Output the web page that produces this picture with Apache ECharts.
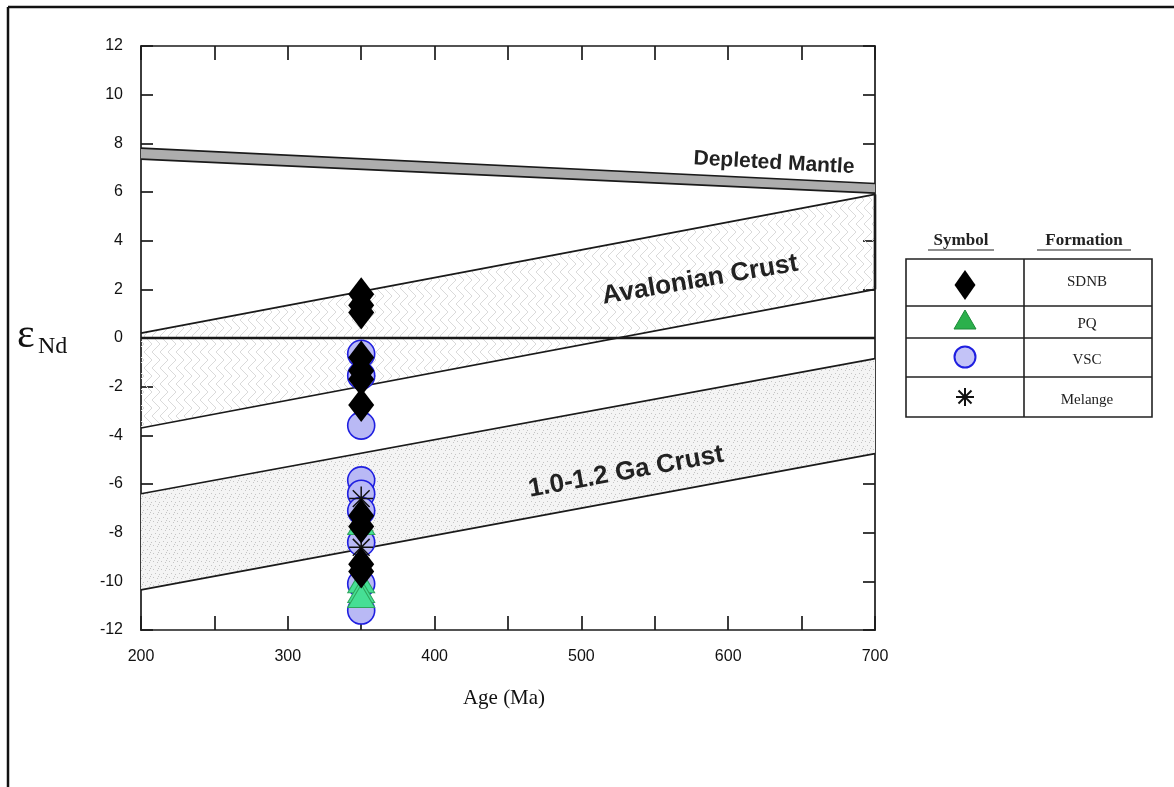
<!DOCTYPE html>
<html>
<head>
<meta charset="utf-8">
<script src="https://cdn.jsdelivr.net/npm/echarts@6/dist/echarts.min.js"></script>
<style>
  html, body { margin: 0; padding: 0; background: #ffffff; }
  #chart { width: 1174px; height: 787px; }
</style>
</head>
<body>
<div id="chart"></div>
<script>
// ---------- data ----------
const sampleAge = 350;
const sdnbEps    = [1.8, 1.35, 1.05, -0.8, -1.35, -1.7, -2.75, -7.3, -7.75, -9.3, -9.6];
const pqEps      = [-7.6, -10.0, -10.4, -10.6];
const vscEps     = [-0.65, -1.55, -3.6, -5.85, -6.4, -7.1, -8.4, -10.1, -11.2];
const melangeEps = [-6.6, -8.6];

const bandAges     = [200, 700];
const mantleTop    = [7.8, 6.35];
const mantleBottom = [7.35, 5.95];
const avalonTop    = [0.2, 5.9];
const avalonBottom = [-3.7, 2.0];
const gaTop        = [-6.4, -0.85];
const gaBottom     = [-10.35, -4.75];
const zeroLine     = [[200, 0], [700, 0]];

const xTicks = [200, 300, 400, 500, 600, 700];
const yTicks = [-12, -10, -8, -6, -4, -2, 0, 2, 4, 6, 8, 10, 12];
const formations = ['SDNB', 'PQ', 'VSC', 'Melange'];

// ---------- fill patterns ----------
function herringbone() {
  const c = document.createElement('canvas');
  c.width = 16; c.height = 16;
  const g = c.getContext('2d');
  g.strokeStyle = '#dadada';
  g.lineWidth = 1;
  g.beginPath();
  g.moveTo(0, 0); g.lineTo(8, 8); g.lineTo(0, 16);
  g.moveTo(8, 0); g.lineTo(16, 8); g.lineTo(8, 16);
  g.stroke();
  return c;
}
function stipple() {
  const c = document.createElement('canvas');
  c.width = 8; c.height = 8;
  const g = c.getContext('2d');
  g.fillStyle = '#f4f4f4';
  g.fillRect(0, 0, 8, 8);
  g.fillStyle = '#c4c4c4';
  const dots = [[1,1],[5,2],[3,5],[7,6],[6,0]];
  dots.forEach(d => g.fillRect(d[0], d[1], 1, 1));
  return c;
}
const patAvalon = { image: herringbone(), repeat: 'repeat' };
const patGa = { image: stipple(), repeat: 'repeat' };

function bandItem(top, bot) {
  return [bandAges[0], bandAges[1], top[0], top[1], bot[0], bot[1]];
}
const bands = [
  { name: 'mantle', value: bandItem(mantleTop, mantleBottom), fill: '#adadad', rightEdge: false },
  { name: 'avalon', value: bandItem(avalonTop, avalonBottom), fill: patAvalon, rightEdge: true },
  { name: 'ga', value: bandItem(gaTop, gaBottom), fill: patGa, rightEdge: false }
];

function renderBand(params, api) {
  const b = bands[params.dataIndex];
  const x0 = api.value(0), x1 = api.value(1);
  const t0 = api.coord([x0, api.value(2)]);
  const t1 = api.coord([x1, api.value(3)]);
  const b1 = api.coord([x1, api.value(5)]);
  const b0 = api.coord([x0, api.value(4)]);
  const children = [
    { type: 'polygon', shape: { points: [t0, t1, b1, b0] }, style: { fill: b.fill, stroke: null } },
    { type: 'line', shape: { x1: t0[0], y1: t0[1], x2: t1[0], y2: t1[1] }, style: { stroke: '#1a1a1a', lineWidth: 1.7 } },
    { type: 'line', shape: { x1: b0[0], y1: b0[1], x2: b1[0], y2: b1[1] }, style: { stroke: '#1a1a1a', lineWidth: 1.7 } }
  ];
  if (b.rightEdge) {
    children.push({ type: 'line', shape: { x1: t1[0], y1: t1[1], x2: b1[0], y2: b1[1] }, style: { stroke: '#1a1a1a', lineWidth: 2.6 } });
  }
  return { type: 'group', children: children };
}

const asteriskPath = 'path://M10 0 L10 20 M0 10 L20 10 M3 3 L17 17 M3 17 L17 3';

const labelFont = 'Liberation Sans, Arial, sans-serif';
const serifFont = 'Liberation Serif, DejaVu Serif, serif';

const axisLineStyle = { color: '#1a1a1a', width: 1.7 };

const chart = echarts.init(document.getElementById('chart'), null, { renderer: 'canvas' });

const option = {
  backgroundColor: '#ffffff',
  animation: false,
  grid: { left: 141, right: 299, top: 46, bottom: 157, containLabel: false },
  xAxis: [
    {
      type: 'value', min: 200, max: 700, interval: 50, position: 'bottom',
      axisLine: { show: true, onZero: false, lineStyle: axisLineStyle },
      axisTick: { show: true, inside: true, length: 14, lineStyle: axisLineStyle },
      axisLabel: {
        color: '#111', fontSize: 16, fontFamily: labelFont, margin: 19,
        formatter: v => (xTicks.indexOf(v) >= 0 ? String(v) : '')
      },
      splitLine: { show: false }
    },
    {
      type: 'value', min: 200, max: 700, interval: 50, position: 'top',
      axisLine: { show: true, onZero: false, lineStyle: axisLineStyle },
      axisTick: { show: true, inside: true, length: 14, lineStyle: axisLineStyle },
      axisLabel: { show: false },
      splitLine: { show: false }
    }
  ],
  yAxis: [
    {
      type: 'value', min: -12, max: 12, interval: 2, position: 'left',
      axisLine: { show: true, onZero: false, lineStyle: axisLineStyle },
      axisTick: { show: true, inside: true, length: 12, lineStyle: axisLineStyle },
      axisLabel: {
        color: '#111', fontSize: 16, fontFamily: labelFont, margin: 18,
        formatter: v => (yTicks.indexOf(v) >= 0 ? String(v) : '')
      },
      splitLine: { show: false }
    },
    {
      type: 'value', min: -12, max: 12, interval: 2, position: 'right',
      axisLine: { show: true, onZero: false, lineStyle: axisLineStyle },
      axisTick: { show: true, inside: true, length: 12, lineStyle: axisLineStyle },
      axisLabel: { show: false },
      splitLine: { show: false }
    }
  ],
  series: [
    {
      type: 'custom', name: 'bands', renderItem: renderBand, z: 1, silent: true,
      encode: { x: [0, 1], y: [2, 3, 4, 5] },
      data: bands.map(b => b.value)
    },
    {
      type: 'line', name: 'zero', data: zeroLine, symbol: 'none', z: 2, silent: true,
      lineStyle: { color: '#1a1a1a', width: 2.6 }
    },
    {
      type: 'scatter', name: formations[2], z: 3,
      data: vscEps.map(v => [sampleAge, v]),
      symbol: 'circle', symbolSize: 27,
      itemStyle: { color: '#b9b9f5', borderColor: '#1f1fe0', borderWidth: 1.6, opacity: 1 }
    },
    {
      type: 'scatter', name: formations[1], z: 4,
      data: pqEps.map(v => [sampleAge, v]),
      symbol: 'triangle', symbolSize: [27, 23],
      itemStyle: { color: '#46df95', borderColor: '#2ea65c', borderWidth: 1, opacity: 1 }
    },
    {
      type: 'scatter', name: formations[3], z: 5,
      data: melangeEps.map(v => [sampleAge, v]),
      symbol: asteriskPath, symbolSize: 24,
      itemStyle: { color: 'none', borderColor: '#111', borderWidth: 1.5, opacity: 1 }
    },
    {
      type: 'scatter', name: formations[0], z: 6,
      data: sdnbEps.map(v => [sampleAge, v]),
      symbol: 'diamond', symbolSize: [26, 34],
      itemStyle: { color: '#000', opacity: 1 }
    }
  ],
  graphic: [
    // page frame
    { type: 'line', shape: { x1: 8, y1: 7, x2: 8, y2: 787 }, style: { stroke: '#111', lineWidth: 2.5 }, z: 100 },
    { type: 'line', shape: { x1: 8, y1: 7, x2: 1174, y2: 7 }, style: { stroke: '#111', lineWidth: 2.5 }, z: 100 },
    // axis titles
    { type: 'text', x: 17, y: 336, z: 100, style: { text: 'ε', font: '42px ' + serifFont, fill: '#111', textAlign: 'left', textVerticalAlign: 'middle' } },
    { type: 'text', x: 38, y: 347, z: 100, style: { text: 'Nd', font: '24px ' + serifFont, fill: '#111', textAlign: 'left', textVerticalAlign: 'middle' } },
    { type: 'text', x: 504, y: 698, z: 100, style: { text: 'Age (Ma)', font: '21px ' + serifFont, fill: '#111', textAlign: 'center', textVerticalAlign: 'middle' } },
    // band labels
    { type: 'text', x: 774, y: 163, rotation: -0.055, z: 100, style: { text: 'Depleted Mantle', font: 'bold 21px ' + labelFont, fill: '#222', textAlign: 'center', textVerticalAlign: 'middle' } },
    { type: 'text', x: 700, y: 280, rotation: 0.17, z: 100, style: { text: 'Avalonian Crust', font: 'bold 26px ' + labelFont, fill: '#222', textAlign: 'center', textVerticalAlign: 'middle' } },
    { type: 'text', x: 626, y: 472, rotation: 0.18, z: 100, style: { text: '1.0-1.2 Ga Crust', font: 'bold 26px ' + labelFont, fill: '#222', textAlign: 'center', textVerticalAlign: 'middle' } },
    // legend table headers
    { type: 'text', x: 961, y: 241, z: 100, style: { text: 'Symbol', font: 'bold 17px ' + serifFont, fill: '#222', textAlign: 'center', textVerticalAlign: 'middle' } },
    { type: 'line', shape: { x1: 928, y1: 250, x2: 994, y2: 250 }, style: { stroke: '#222', lineWidth: 1.2 }, z: 100 },
    { type: 'text', x: 1084, y: 241, z: 100, style: { text: 'Formation', font: 'bold 17px ' + serifFont, fill: '#222', textAlign: 'center', textVerticalAlign: 'middle' } },
    { type: 'line', shape: { x1: 1037, y1: 250, x2: 1131, y2: 250 }, style: { stroke: '#222', lineWidth: 1.2 }, z: 100 },
    // legend table grid
    { type: 'rect', shape: { x: 906, y: 259, width: 246, height: 158 }, style: { fill: 'none', stroke: '#222', lineWidth: 1.6 }, z: 100 },
    { type: 'line', shape: { x1: 906, y1: 306, x2: 1152, y2: 306 }, style: { stroke: '#222', lineWidth: 1.6 }, z: 100 },
    { type: 'line', shape: { x1: 906, y1: 338, x2: 1152, y2: 338 }, style: { stroke: '#222', lineWidth: 1.6 }, z: 100 },
    { type: 'line', shape: { x1: 906, y1: 377, x2: 1152, y2: 377 }, style: { stroke: '#222', lineWidth: 1.6 }, z: 100 },
    { type: 'line', shape: { x1: 1024, y1: 259, x2: 1024, y2: 417 }, style: { stroke: '#222', lineWidth: 1.6 }, z: 100 },
    // legend symbols
    { type: 'polygon', shape: { points: [[965, 270], [975.5, 285], [965, 300], [954.5, 285]] }, style: { fill: '#000' }, z: 100 },
    { type: 'polygon', shape: { points: [[965, 310], [976, 329], [954, 329]] }, style: { fill: '#2bb04c', stroke: '#1d8a39', lineWidth: 1 }, z: 100 },
    { type: 'circle', shape: { cx: 965, cy: 357, r: 10.5 }, style: { fill: '#c3c3f7', stroke: '#1f1fe0', lineWidth: 2 }, z: 100 },
    { type: 'group', x: 965, y: 397, z: 100, children: [
      { type: 'line', shape: { x1: 0, y1: -9, x2: 0, y2: 9 }, style: { stroke: '#111', lineWidth: 2 } },
      { type: 'line', shape: { x1: -9, y1: 0, x2: 9, y2: 0 }, style: { stroke: '#111', lineWidth: 2 } },
      { type: 'line', shape: { x1: -6.5, y1: -6.5, x2: 6.5, y2: 6.5 }, style: { stroke: '#111', lineWidth: 2 } },
      { type: 'line', shape: { x1: -6.5, y1: 6.5, x2: 6.5, y2: -6.5 }, style: { stroke: '#111', lineWidth: 2 } }
    ] },
    // legend labels
    { type: 'text', x: 1087, y: 282, z: 100, style: { text: formations[0], font: '15px ' + serifFont, fill: '#222', textAlign: 'center', textVerticalAlign: 'middle' } },
    { type: 'text', x: 1087, y: 324, z: 100, style: { text: formations[1], font: '15px ' + serifFont, fill: '#222', textAlign: 'center', textVerticalAlign: 'middle' } },
    { type: 'text', x: 1087, y: 360, z: 100, style: { text: formations[2], font: '15px ' + serifFont, fill: '#222', textAlign: 'center', textVerticalAlign: 'middle' } },
    { type: 'text', x: 1087, y: 400, z: 100, style: { text: formations[3], font: '15px ' + serifFont, fill: '#222', textAlign: 'center', textVerticalAlign: 'middle' } }
  ]
};

chart.setOption(option);
</script>
</body>
</html>
